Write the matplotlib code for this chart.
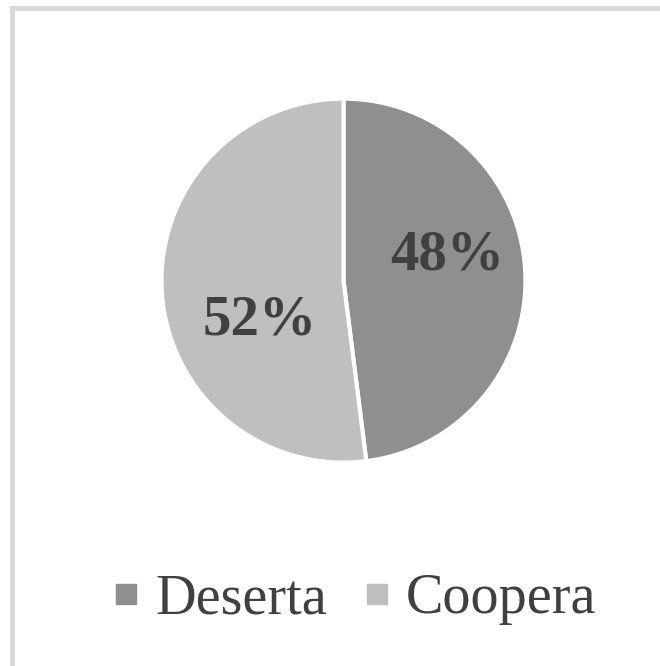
import matplotlib.pyplot as plt
from matplotlib.lines import Line2D

labels = ['Deserta', 'Coopera']
values = [48, 52]
colors = ['#8f8f8f', '#bfbfbf']
pct_text = ['48%', '52%']
# label offsets inside each wedge (x, y in pie radius units)
label_pos = [(0.57, 0.14), (-0.46, -0.22)]

plt.rcParams['font.family'] = ['Liberation Serif', 'DejaVu Serif']

fig = plt.figure(figsize=(6.6, 6.66), dpi=100)
fig.patch.set_facecolor('white')

# light frame (left + top visible, rest runs off the image)
fig.add_artist(Line2D([12 / 660, 12 / 660], [0, 1 - 8 / 666],
                      transform=fig.transFigure, color='#d9d9d9', lw=3.5))
fig.add_artist(Line2D([12 / 660, 1], [1 - 8 / 666, 1 - 8 / 666],
                      transform=fig.transFigure, color='#d9d9d9', lw=3.5))

ax = fig.add_axes([0.2447, 0.3054, 0.5515, 0.5465])
wedges, _ = ax.pie(values, colors=colors, startangle=90, counterclock=False,
                   radius=1, wedgeprops=dict(edgecolor='white', linewidth=3))
ax.set_xlim(-1.0, 1.0)
ax.set_ylim(-1.0, 1.0)
ax.set_aspect('equal')

for txt, (x, y) in zip(pct_text, label_pos):
    ax.text(x, y, txt, ha='center', va='center', fontsize=41,
            fontweight='bold', color='#404040')

handles = [Line2D([], [], marker='s', linestyle='none', markersize=14,
                  markerfacecolor=c, markeredgecolor=c) for c in colors]
fig.legend(handles, labels, loc='center', bbox_to_anchor=(0.538, 0.1),
           ncol=2, frameon=False, fontsize=40.5, labelcolor='#404040',
           handlelength=0.45, handletextpad=0.3, columnspacing=0.65)

fig.savefig('out.png', dpi=100, facecolor='white')
